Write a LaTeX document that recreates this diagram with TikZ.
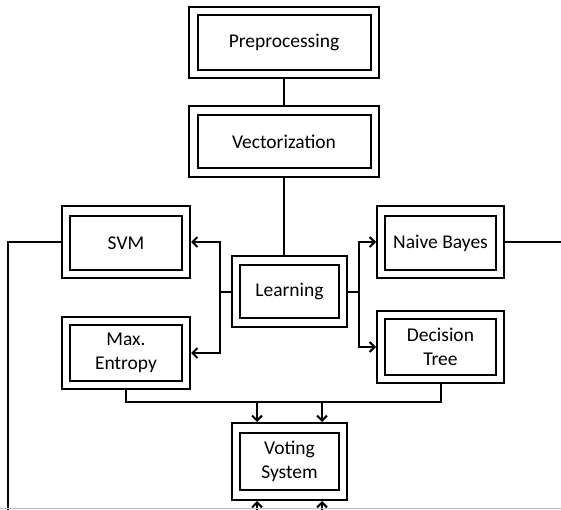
\documentclass[tikz,border=0pt]{standalone}
\usepackage{fontspec}
\setmainfont{Carlito}
\usetikzlibrary{arrows.meta}
\begin{document}
\begin{tikzpicture}[x=1pt,y=-1pt,
  outerbox/.style={draw, line width=2pt, inner sep=0pt},
  innerbox/.style={draw, line width=2pt, inner sep=0pt, align=center, font=\fontsize{19.5}{24}\selectfont},
  conn/.style={line width=2pt},
  arr/.style={line width=2pt, -{Straight Barb[length=5pt,width=10pt,line width=2pt]}}]
\useasboundingbox (0,0) rectangle (561,510);
% Preprocessing
\node[outerbox, minimum width=190, minimum height=71] (pre) at (284,42.5) {};
\node[innerbox, minimum width=173, minimum height=55] (prei) at (284,42.5) {Preprocessing};
% Vectorization
\node[outerbox, minimum width=190, minimum height=71] (vec) at (284,141.5) {};
\node[innerbox, minimum width=173, minimum height=53] (veci) at (284,141.5) {Vectorization};
% SVM
\node[outerbox, minimum width=128, minimum height=72] (svm) at (126,242) {};
\node[innerbox, minimum width=112, minimum height=54] (svmi) at (126,243) {SVM};
% Max Entropy
\node[outerbox, minimum width=128, minimum height=72] (me) at (126,353) {};
\node[innerbox, minimum width=112, minimum height=56] (mei) at (126,353) {Max.\\Entropy};
% Learning
\node[outerbox, minimum width=115, minimum height=71] (learn) at (289.5,291.5) {};
\node[innerbox, minimum width=99, minimum height=53] (learni) at (289.5,291.5) {Learning};
% Naive Bayes
\node[outerbox, minimum width=127, minimum height=72] (nb) at (440.5,242) {};
\node[innerbox, minimum width=111, minimum height=54] (nbi) at (440.5,243) {Naive Bayes};
% Decision Tree
\node[outerbox, minimum width=127, minimum height=72] (dt) at (440.5,347) {};
\node[innerbox, minimum width=111, minimum height=56] (dti) at (440.5,347) {Decision\\Tree};
% Voting System
\node[outerbox, minimum width=115, minimum height=77] (vote) at (289.5,461.5) {};
\node[innerbox, minimum width=99, minimum height=57] (votei) at (289.5,461.5) {Voting\\System};
% coordinates
\coordinate (lbus) at (220,292);
\coordinate (rbus) at (359,292);
\coordinate (leftend) at (8,510);
\coordinate (rightend) at (561,242);
\coordinate (bus) at (257,402);
\coordinate (busb) at (322,402);
\coordinate (ina) at (257,510);
\coordinate (inb) at (322,510);
% connectors
\draw[conn] (pre.south) -- (vec.north);
\draw[conn] (vec.south) -- (vec.south |- learn.north);
\draw[conn] (learn.west) -- (lbus |- learn.west);
\draw[arr] (lbus |- learn.west) |- (svm.east);
\draw[arr] (lbus |- learn.west) |- (me.east);
\draw[conn] (learn.east) -- (rbus |- learn.east);
\draw[arr] (rbus |- learn.east) |- (nb.west);
\draw[arr] (rbus |- learn.east) |- (dt.west);
\draw[conn] (svm.west) -| (leftend);
\draw[conn] (nb.east) -- (rightend);
\draw[conn] (me.south) |- (bus) -| (dt.south);
\draw[conn] (bus) -- (busb);
\draw[arr] (bus) -- (bus |- vote.north);
\draw[arr] (busb) -- (busb |- vote.north);
\draw[arr] (ina) -- (ina |- vote.south);
\draw[arr] (inb) -- (inb |- vote.south);
\draw[line width=1pt, gray!50] (0,508.5) -- (561,508.5);
\end{tikzpicture}
\end{document}
